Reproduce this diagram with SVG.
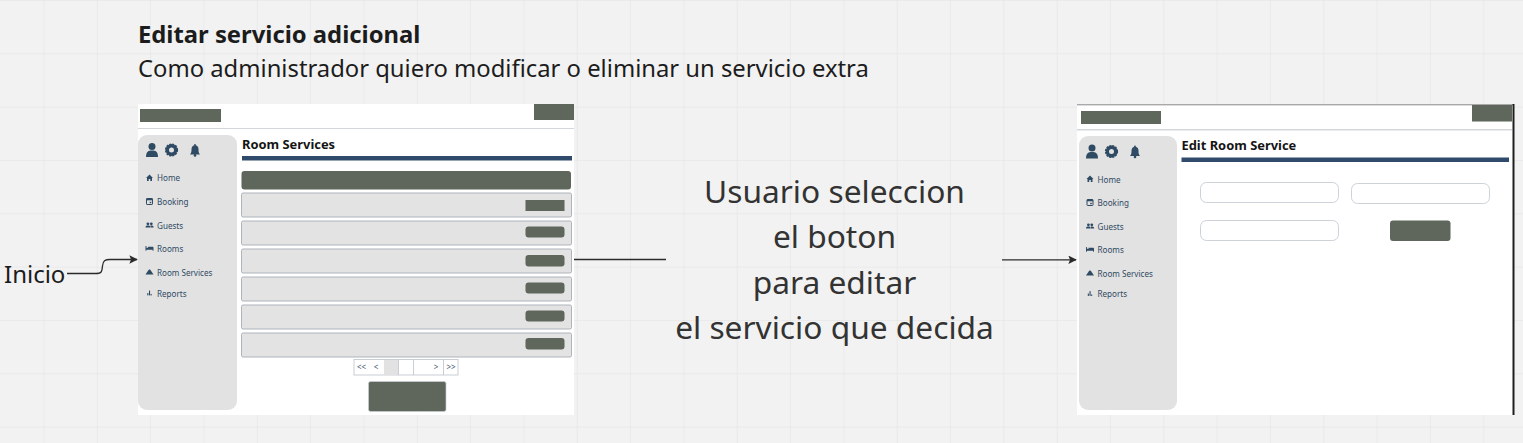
<svg xmlns="http://www.w3.org/2000/svg" width="1523" height="443" viewBox="0 0 1523 443">
<defs>
<pattern id="grid" x="43.4" y="0" width="53.33" height="53.33" patternUnits="userSpaceOnUse"><path d="M0 0V53.33M0 0H53.33" fill="none" stroke="#e2e2e2" stroke-width="1"/></pattern>
<marker id="arrow" viewBox="0 0 10 10" refX="9" refY="5" markerWidth="8.5" markerHeight="8.5" markerUnits="userSpaceOnUse" orient="auto"><path d="M0 0L10 5L0 10L2 5Z" fill="#2b2b2b"/></marker>
<g id="i-user"><circle cx="0" cy="-3.6" r="3.5"/><path d="M-6 7C-6 1.5-3.5 .5 0 .5S6 1.5 6 7Z"/></g>
<g id="i-gear"><circle r="4.2" fill="none" stroke="#2f4a63" stroke-width="3.4"/><circle r="5.9" fill="none" stroke="#2f4a63" stroke-width="1.4" stroke-dasharray="2 1.1"/></g>
<g id="i-bell"><path d="M-5 4.5C-3.5 3-3.5 1-3.5-1C-3.5-3.5-2-4.5 0-5C2-4.5 3.5-3.5 3.5-1C3.5 1 3.5 3 5 4.5Z"/><circle cy="5.4" r="1.3"/><circle cy="-5.2" r=".9"/></g>
<g id="i-home"><path d="M-3.500 0L0-3.500L3.500 0H2.500V3H.8V1H-.8V3H-2.500V0Z"/></g>
<g id="i-book"><rect x="-3" y="-3" width="6" height="6" rx=".6" fill="none" stroke="#2f4a63" stroke-width="1"/><rect x="-3" y="-3" width="6" height="1.8"/><rect x=".2" y=".3" width="1.6" height="1.4"/></g>
<g id="i-guests"><circle cx="-1.6" cy="-1.2" r="1.4"/><circle cx="1.8" cy="-1.2" r="1.4"/><path d="M-4 2.5C-4 .6-3 .4-1.6 .4S.6 .6.8 2.5ZM1 2.5C1 1 1 .7.8 .5C2.5 .2 4.2 .6 4.2 2.5Z"/></g>
<g id="i-bed"><path d="M-4-2.5H-3.1V-.8H-1.4V-1.8H3C3.6-1.8 4-1.4 4-.8V2.3H3.1V1.3H-3.1V2.3H-4Z"/></g>
<g id="i-serv"><path d="M-4 2.5L-2.500 .2C-1.500-1.500-.8-2.300 0-2.800C.8-2.300 1.500-1.500 2.500 .2L4 2.500Z"/></g>
<g id="i-rep"><rect x="-2.2" y="0" width="1.1" height="2.4"/><rect x="-.5" y="-2.4" width="1.1" height="4.8"/><rect x="1.1" y="1" width="1.1" height="1.4"/></g>
</defs>
<style>
text{font-family:"Noto Sans","Open Sans","DejaVu Sans",sans-serif}
.dark{fill:#5f665b}
.side{fill:#e2e2e2}
.row{fill:#e3e3e3;stroke:#aeb4bb;stroke-width:1}
.rule{fill:#2f4a6a}
.hr{fill:#d3d7db}
.ic{fill:#2f4a63}
.nav{font-size:8.1px;fill:#2f4a63}
.head{font-size:12.9px;font-weight:700;fill:#151515}
.big{font-size:31.7px;fill:#333;text-anchor:middle}
.input{fill:#fff;stroke:#cdd2d9;stroke-width:1}
.pg{font-size:8px;fill:#3f566e;text-anchor:middle}
.conn{fill:none;stroke:#2b2b2b;stroke-width:1.3}
</style>
<rect width="1523" height="443" fill="#f2f2f2"/>
<rect width="1523" height="443" fill="url(#grid)"/>
<g id="title">
<text x="138" y="43" font-size="23.8" font-weight="700" fill="#1c1c1c">Editar servicio adicional</text>
<text x="138" y="77" font-size="23.8" fill="#1c1c1c">Como administrador quiero modificar o eliminar un servicio extra</text>
</g>
<g id="screen-room-services">
<rect x="138" y="104" width="436" height="311" fill="#fff"/>
<rect x="140" y="109" width="81" height="13" class="dark"/>
<rect x="534" y="104" width="40" height="16" class="dark"/>
<rect x="138" y="128" width="436" height="1" class="hr"/>
<rect x="138" y="135" width="99" height="275" rx="9" class="side"/>
<use href="#i-user" x="152" y="150" class="ic"/><use href="#i-gear" x="171.500" y="150"/><use href="#i-bell" x="195" y="150" class="ic"/>
<use href="#i-home" x="149.500" y="178" class="ic"/><text x="157" y="181" class="nav">Home</text>
<use href="#i-book" x="149.500" y="201.500" class="ic"/><text x="157" y="205" class="nav">Booking</text>
<use href="#i-guests" x="149.500" y="225" class="ic"/><text x="157" y="228.500" class="nav">Guests</text>
<use href="#i-bed" x="149.500" y="248.500" class="ic"/><text x="157" y="252" class="nav">Rooms</text>
<use href="#i-serv" x="149.500" y="272" class="ic"/><text x="157" y="275.500" class="nav">Room Services</text>
<use href="#i-rep" x="149.500" y="293" class="ic"/><text x="157" y="296.500" class="nav">Reports</text>
<text x="242" y="148.500" class="head">Room Services</text>
<rect x="242" y="156" width="330" height="4.500" class="rule"/>
<rect x="241.500" y="171" width="329.500" height="18.500" rx="3" class="dark"/>
<rect x="241.500" y="193" width="330" height="24" rx="1.500" class="row"/>
<rect x="241.500" y="221" width="330" height="24" rx="1.500" class="row"/>
<rect x="241.500" y="249" width="330" height="24" rx="1.500" class="row"/>
<rect x="241.500" y="277" width="330" height="24" rx="1.500" class="row"/>
<rect x="241.500" y="305" width="330" height="24" rx="1.500" class="row"/>
<rect x="241.500" y="333" width="330" height="24" rx="1.500" class="row"/>
<rect x="525.500" y="200" width="39" height="11" class="dark"/>
<rect x="525.500" y="226.500" width="39" height="11" rx="3" class="dark"/>
<rect x="525.500" y="255" width="39" height="11.500" rx="3" class="dark"/>
<rect x="525.500" y="282.500" width="39" height="11" rx="3" class="dark"/>
<rect x="525.500" y="310.500" width="39" height="11" rx="3" class="dark"/>
<rect x="525.500" y="338" width="39" height="11.500" rx="3" class="dark"/>
<rect x="354" y="359.500" width="104" height="15.500" fill="#fff" stroke="#c9ced4"/>
<rect x="384" y="360" width="14" height="15" fill="#e2e2e2"/>
<path d="M398.500 360V375M413.500 360V375M443.500 360V375" stroke="#c9ced4" fill="none"/>
<text x="361.500" y="370" class="pg">&lt;&lt;</text><text x="376" y="370" class="pg">&lt;</text><text x="436" y="370" class="pg">&gt;</text><text x="451" y="370" class="pg">&gt;&gt;</text>
<rect x="368.500" y="381.500" width="77.500" height="30" rx="2" class="dark" stroke="#c9ced4" stroke-width=".7"/>
</g>
<g id="label-inicio"><text x="4" y="283" font-size="24" fill="#1c1c1c">Inicio</text></g>
<g id="label-center">
<text x="834.500" y="203" class="big">Usuario seleccion</text>
<text x="834.500" y="248" class="big">el boton</text>
<text x="834.500" y="294" class="big">para editar</text>
<text x="834.500" y="339" class="big">el servicio que decida</text>
</g>
<g id="screen-edit-room-service">
<rect x="1077" y="105" width="436" height="310" fill="#fff"/>
<path d="M1077 104.800H1513" stroke="#8a8a8a" stroke-width="1"/>
<path d="M1513.500 104V415" stroke="#1e1e1e" stroke-width="2"/>
<rect x="1081" y="111" width="80" height="13" class="dark"/>
<rect x="1472" y="105" width="40" height="16.500" class="dark"/>
<rect x="1077" y="129" width="435" height="1.500" class="hr"/>
<rect x="1079" y="136" width="98" height="274" rx="9" class="side"/>
<use href="#i-user" x="1092" y="151.500" class="ic"/><use href="#i-gear" x="1111.500" y="151.500"/><use href="#i-bell" x="1135" y="151.500" class="ic"/>
<use href="#i-home" x="1090" y="179" class="ic"/><text x="1097.500" y="182.500" class="nav">Home</text>
<use href="#i-book" x="1090" y="202.500" class="ic"/><text x="1097.500" y="206" class="nav">Booking</text>
<use href="#i-guests" x="1090" y="226" class="ic"/><text x="1097.500" y="229.500" class="nav">Guests</text>
<use href="#i-bed" x="1090" y="249.500" class="ic"/><text x="1097.500" y="253" class="nav">Rooms</text>
<use href="#i-serv" x="1090" y="273" class="ic"/><text x="1097.500" y="276.500" class="nav">Room Services</text>
<use href="#i-rep" x="1090" y="293.500" class="ic"/><text x="1097.500" y="297" class="nav">Reports</text>
<text x="1181.500" y="150" class="head">Edit Room Service</text>
<rect x="1181.500" y="157.500" width="327.500" height="4.500" class="rule"/>
<rect x="1200.500" y="182.500" width="138" height="20" rx="6" class="input"/>
<rect x="1351.500" y="183.500" width="138" height="20" rx="6" class="input"/>
<rect x="1200.500" y="220.500" width="138" height="20" rx="6" class="input"/>
<rect x="1390" y="220.500" width="60.500" height="20.500" rx="3" class="dark"/>
</g>
<g id="connectors">
<path class="conn" d="M67 273.500H96C102 273.500 102 271 102.500 266C103 260.500 105 259.500 110 259.500H137" marker-end="url(#arrow)"/>
<path class="conn" d="M574 259.500H666"/>
<path class="conn" d="M1002 259.800H1076" marker-end="url(#arrow)"/>
</g>
</svg>
